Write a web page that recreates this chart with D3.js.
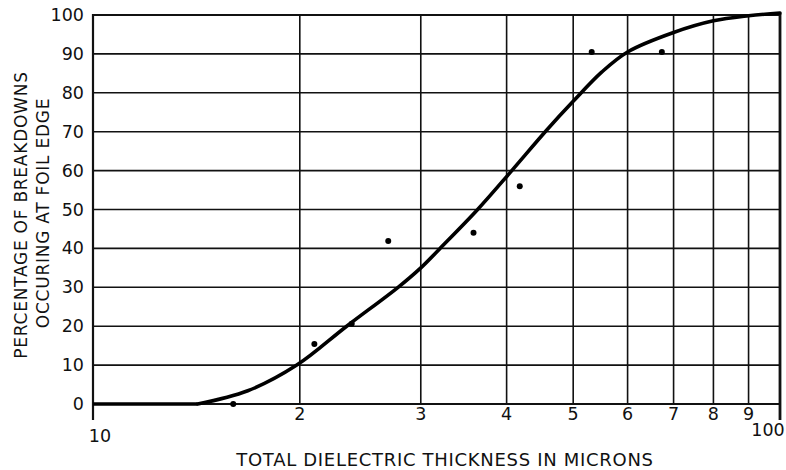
<!DOCTYPE html>
<html>
<head>
<meta charset="utf-8">
<script src="https://cdn.jsdelivr.net/npm/d3@7"></script>
<style>
  body { margin: 0; background: #fff; }
  svg { display: block; }
  text { font-family: "DejaVu Sans", sans-serif; fill: #111; }
</style>
</head>
<body>
<svg id="chart"></svg>
<script>
// measured points (thickness in microns, % breakdowns at foil edge)
const pointX = [16, 21, 23.8, 26.9, 35.8, 41.8, 53.2, 67.3];
const pointY = [0, 15.4, 20.6, 41.9, 44, 56, 90.5, 90.5];

// smooth fitted curve (flat at 0 up to about 14 microns)
const curveX = [10, 14.2, 16.8, 19.8, 23.4, 27.8, 30, 32, 36.3, 40.7, 45.8, 50, 55, 60, 70, 80, 90, 100];
const curveY = [0, 0, 3.4, 10, 20, 30, 35, 40, 50, 60, 70.5, 77.8, 85.3, 90.5, 95.5, 98.5, 99.8, 100.5];

const xTicks = [20, 30, 40, 50, 60, 70, 80, 90];
const xTickLabels = ["2", "3", "4", "5", "6", "7", "8", "9"];
const yTicks = [0, 10, 20, 30, 40, 50, 60, 70, 80, 90, 100];

const WIDTH = 786, HEIGHT = 470;
const MARGIN = { top: 15, right: 6, bottom: 66, left: 93 };

const svg = d3.select("#chart").attr("width", WIDTH).attr("height", HEIGHT);

const x = d3.scaleLog().domain([10, 100]).range([MARGIN.left, WIDTH - MARGIN.right]);
const y = d3.scaleLinear().domain([0, 100]).range([HEIGHT - MARGIN.bottom, MARGIN.top]);

const g = svg.append("g");

// horizontal grid
g.selectAll(".hgrid")
  .data(yTicks)
  .enter()
  .append("line")
  .attr("x1", x(10)).attr("x2", x(100))
  .attr("y1", d => y(d)).attr("y2", d => y(d))
  .attr("stroke", "#111")
  .attr("stroke-width", d => (d === 0 || d === 100) ? 2.2 : 1.6);

// vertical grid
g.selectAll(".vgrid")
  .data(xTicks)
  .enter()
  .append("line")
  .attr("x1", d => x(d)).attr("x2", d => x(d))
  .attr("y1", y(100)).attr("y2", y(0))
  .attr("stroke", "#111")
  .attr("stroke-width", 1.6);

// left and right borders run a bit past the zero line
g.selectAll(".border")
  .data([10, 100])
  .enter()
  .append("line")
  .attr("x1", d => x(d)).attr("x2", d => x(d))
  .attr("y1", y(100) - 1).attr("y2", y(0) + 16)
  .attr("stroke", "#111")
  .attr("stroke-width", d => d === 100 ? 2.8 : 2.2);

// y tick labels
g.selectAll(".ylab")
  .data(yTicks)
  .enter()
  .append("text")
  .attr("x", MARGIN.left - 9)
  .attr("y", d => y(d) + 6)
  .attr("text-anchor", "end")
  .attr("font-size", 17.5)
  .text(d => d);

// x tick labels
g.selectAll(".xlab")
  .data(xTicks)
  .enter()
  .append("text")
  .attr("x", d => x(d))
  .attr("y", y(0) + 16)
  .attr("text-anchor", "middle")
  .attr("font-size", 17.5)
  .text((d, i) => xTickLabels[i]);

g.append("text")
  .attr("x", x(10) + 7).attr("y", y(0) + 38)
  .attr("text-anchor", "middle").attr("font-size", 17.5)
  .text("10");
g.append("text")
  .attr("x", x(100) - 12).attr("y", y(0) + 32)
  .attr("text-anchor", "middle").attr("font-size", 17.5)
  .text("100");

// fitted curve: straight flat part, then smooth rise
const pts = curveX.map((v, i) => [v, curveY[i]]);
const flatLine = d3.line().x(d => x(d[0])).y(d => y(d[1]));
const smoothLine = d3.line()
  .x(d => x(d[0]))
  .y(d => y(d[1]))
  .curve(d3.curveCatmullRom.alpha(0.5));

g.append("path")
  .datum(pts.slice(0, 2))
  .attr("d", flatLine)
  .attr("fill", "none")
  .attr("stroke", "#000")
  .attr("stroke-width", 3.6);

g.append("path")
  .datum(pts.slice(1))
  .attr("d", smoothLine)
  .attr("fill", "none")
  .attr("stroke", "#000")
  .attr("stroke-width", 3.6)
  .attr("stroke-linecap", "round");

// data points
g.selectAll(".pt")
  .data(pointX.map((v, i) => [v, pointY[i]]))
  .enter()
  .append("circle")
  .attr("cx", d => x(d[0]))
  .attr("cy", d => y(d[1]))
  .attr("r", 3)
  .attr("fill", "#000");

// axis titles
svg.append("text")
  .attr("x", 445).attr("y", 466)
  .attr("text-anchor", "middle")
  .attr("font-size", 18)
  .attr("letter-spacing", 0.7)
  .text("TOTAL DIELECTRIC THICKNESS IN MICRONS");

svg.append("text")
  .attr("transform", "translate(27,215) rotate(-90)")
  .attr("text-anchor", "middle")
  .attr("font-size", 17)
  .attr("letter-spacing", 0.75)
  .text("PERCENTAGE OF BREAKDOWNS");

svg.append("text")
  .attr("transform", "translate(49,213) rotate(-90)")
  .attr("text-anchor", "middle")
  .attr("font-size", 17)
  .attr("letter-spacing", 0.75)
  .text("OCCURING AT FOIL EDGE");
</script>
</body>
</html>
